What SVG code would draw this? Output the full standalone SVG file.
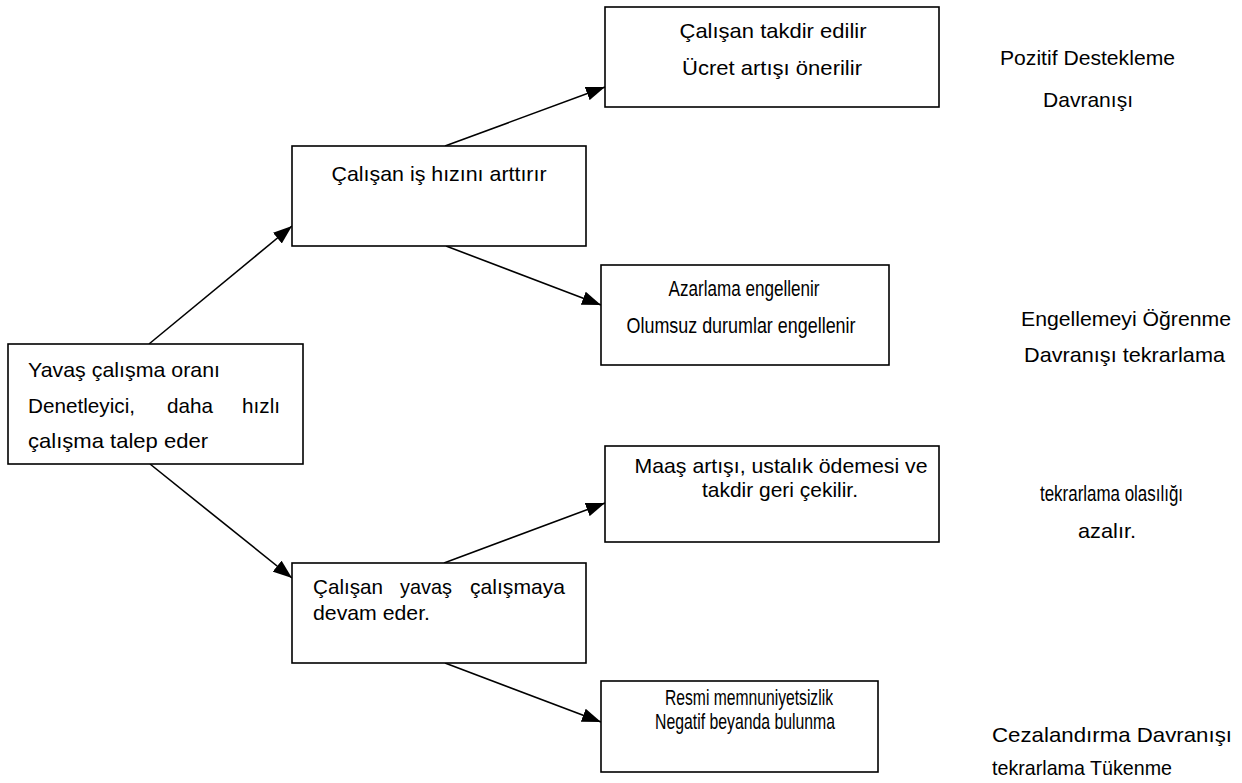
<svg xmlns="http://www.w3.org/2000/svg" width="1242" height="783" viewBox="0 0 1242 783">
  <defs>
    <marker id="arrow" markerUnits="userSpaceOnUse" markerWidth="19" markerHeight="14" refX="19" refY="7" orient="auto">
      <path d="M0,0 L19,7 L0,14 z" fill="#000"/>
    </marker>
    <style>
      .box { fill: #fff; stroke: #000; stroke-width: 1.6; }
      .edge { stroke: #000; stroke-width: 1.6; fill: none; marker-end: url(#arrow); }
      text { font-family: "Liberation Sans", Arial, sans-serif; font-size: 21px; fill: #000; }
      .narrow { font-family: "Liberation Sans Narrow", "Liberation Sans", Arial, sans-serif; font-size: 22px; }
      .mid { text-anchor: middle; }
    </style>
  </defs>
  <rect width="1242" height="783" fill="#fff"/>

  <!-- connectors -->
  <g id="connectors">
    <line class="edge" x1="149" y1="344" x2="292" y2="226"/>
    <line class="edge" x1="150" y1="464" x2="292" y2="578"/>
    <line class="edge" x1="445" y1="146" x2="605" y2="87"/>
    <line class="edge" x1="446" y1="246" x2="601" y2="305"/>
    <line class="edge" x1="444" y1="563" x2="605" y2="503"/>
    <line class="edge" x1="445" y1="663" x2="601" y2="722"/>
  </g>

  <!-- start: slow work rate -->
  <g id="node-start">
    <rect class="box" x="8" y="344" width="295" height="120"/>
    <text x="28" y="377" textLength="192" lengthAdjust="spacingAndGlyphs">Yavaş çalışma oranı</text>
    <text x="28" y="413" textLength="107" lengthAdjust="spacingAndGlyphs">Denetleyici,</text>
    <text x="167" y="413" textLength="46" lengthAdjust="spacingAndGlyphs">daha</text>
    <text x="242" y="413" textLength="38" lengthAdjust="spacingAndGlyphs">hızlı</text>
    <text x="28" y="448" textLength="180" lengthAdjust="spacingAndGlyphs">çalışma talep eder</text>
  </g>

  <!-- employee speeds up -->
  <g id="node-speedup">
    <rect class="box" x="292" y="146" width="294" height="100"/>
    <text class="mid" x="439" y="181" textLength="215" lengthAdjust="spacingAndGlyphs">Çalışan iş hızını arttırır</text>
  </g>

  <!-- employee keeps working slowly -->
  <g id="node-slow">
    <rect class="box" x="292" y="563" width="294" height="100"/>
    <text x="313" y="594" textLength="70" lengthAdjust="spacingAndGlyphs">Çalışan</text>
    <text x="400" y="594" textLength="52" lengthAdjust="spacingAndGlyphs">yavaş</text>
    <text x="470" y="594" textLength="95" lengthAdjust="spacingAndGlyphs">çalışmaya</text>
    <text x="313" y="620" textLength="117" lengthAdjust="spacingAndGlyphs">devam eder.</text>
  </g>

  <!-- praise / raise -->
  <g id="node-praise">
    <rect class="box" x="605" y="7" width="334" height="100"/>
    <text class="mid" x="773" y="38" textLength="187" lengthAdjust="spacingAndGlyphs">Çalışan takdir edilir</text>
    <text class="mid" x="772" y="75" textLength="180" lengthAdjust="spacingAndGlyphs">Ücret artışı önerilir</text>
  </g>

  <!-- scolding avoided -->
  <g id="node-avoid">
    <rect class="box" x="601" y="265" width="288" height="100"/>
    <text class="narrow mid" x="744" y="296" textLength="151" lengthAdjust="spacingAndGlyphs">Azarlama engellenir</text>
    <text class="narrow mid" x="741" y="333" textLength="229" lengthAdjust="spacingAndGlyphs">Olumsuz durumlar engellenir</text>
  </g>

  <!-- rewards withdrawn -->
  <g id="node-withdraw">
    <rect class="box" x="605" y="446" width="334" height="96"/>
    <text class="mid" x="781" y="473" textLength="293" lengthAdjust="spacingAndGlyphs">Maaş artışı, ustalık ödemesi ve</text>
    <text class="mid" x="780" y="497" textLength="156" lengthAdjust="spacingAndGlyphs">takdir geri çekilir.</text>
  </g>

  <!-- formal dissatisfaction -->
  <g id="node-punish">
    <rect class="box" x="601" y="681" width="277" height="91"/>
    <text class="narrow mid" x="749" y="705" textLength="168" lengthAdjust="spacingAndGlyphs">Resmi memnuniyetsizlik</text>
    <text class="narrow mid" x="745" y="729" textLength="180" lengthAdjust="spacingAndGlyphs">Negatif beyanda bulunma</text>
  </g>

  <!-- behaviour labels -->
  <g id="label-positive">
    <text x="1000" y="65" textLength="175" lengthAdjust="spacingAndGlyphs">Pozitif Destekleme</text>
    <text x="1043" y="107" textLength="90" lengthAdjust="spacingAndGlyphs">Davranışı</text>
  </g>
  <g id="label-avoidance">
    <text x="1021" y="326" textLength="210" lengthAdjust="spacingAndGlyphs">Engellemeyi Öğrenme</text>
    <text x="1024" y="362" textLength="201" lengthAdjust="spacingAndGlyphs">Davranışı tekrarlama</text>
  </g>
  <g id="label-decrease">
    <text class="narrow" x="1040" y="501" textLength="143" lengthAdjust="spacingAndGlyphs">tekrarlama olasılığı</text>
    <text x="1078" y="538" font-size="20" textLength="58" lengthAdjust="spacingAndGlyphs">azalır.</text>
  </g>
  <g id="label-punishment">
    <text x="992" y="742" textLength="240" lengthAdjust="spacingAndGlyphs">Cezalandırma  Davranışı</text>
    <text x="992" y="775" textLength="180" lengthAdjust="spacingAndGlyphs">tekrarlama Tükenme</text>
  </g>
</svg>
